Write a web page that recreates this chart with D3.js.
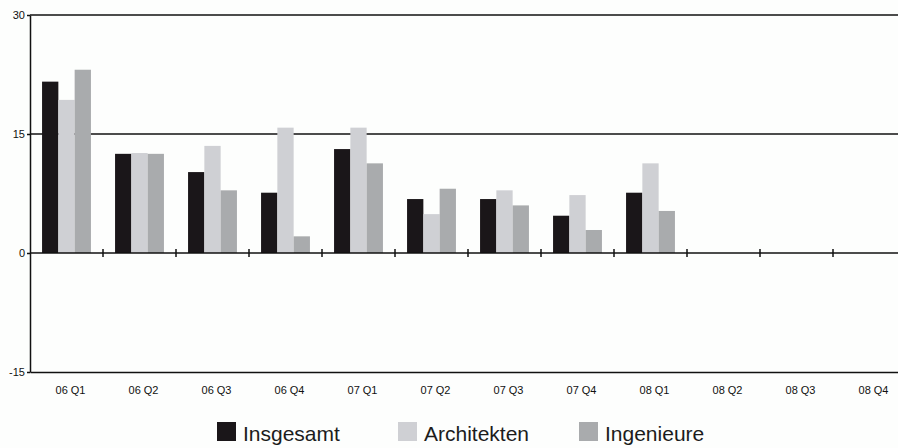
<!DOCTYPE html>
<html>
<meta charset="utf-8">
<style>
body{margin:0;background:#fdfefd;}
svg text{font-family:"Liberation Sans",Arial,sans-serif;fill:#111;}
.axis text{font-size:11px;}
.legend text{font-size:21px;fill:#1c1c1c;}
</style>
<body>
<svg width="898" height="448"></svg>
<script src="https://d3js.org/d3.v7.min.js"></script>
<script>

var quarters = ["06 Q1","06 Q2","06 Q3","06 Q4","07 Q1","07 Q2","07 Q3","07 Q4","08 Q1","08 Q2","08 Q3","08 Q4"];
var seriesNames = ["Insgesamt","Architekten","Ingenieure"];
var insgesamt   = [21.6, 12.5, 10.2, 7.6, 13.1, 6.8, 6.8, 4.7, 7.6, null, null, null];
var architekten = [19.3, 12.6, 13.5, 15.8, 15.8, 4.9, 7.9, 7.3, 11.3, null, null, null];
var ingenieure  = [23.1, 12.5, 7.9, 2.1, 11.3, 8.1, 6.0, 2.9, 5.3, null, null, null];
var yTicks = [-15, 0, 15, 30];
var colors = ["#1a1619", "#cfd0d4", "#a9abad"];

var svg = d3.select("svg");
var mLeft = 30, mRight = 906, mTop = 15, mBottom = 372;

var x = d3.scaleBand().domain(quarters).range([mLeft, mRight]).paddingInner(0).paddingOuter(0);
var xs = d3.scaleBand().domain(seriesNames).range([0, x.bandwidth()]).paddingInner(0).paddingOuter(0.74);
var y = d3.scaleLinear().domain([-15, 30]).range([mBottom, mTop]);

var data = [insgesamt, architekten, ingenieure];

// gridlines at 15 and 30
svg.append("g").selectAll("line")
    .data([15, 30])
    .enter().append("line")
    .attr("x1", mLeft).attr("x2", mRight)
    .attr("y1", function(d) { return y(d); }).attr("y2", function(d) { return y(d); })
    .attr("stroke", "#111").attr("stroke-width", 1.5);

// bars
var groups = svg.append("g").selectAll("g")
    .data(quarters)
    .enter().append("g")
    .attr("transform", function(d) { return "translate(" + x(d) + ",0)"; });

groups.selectAll("rect")
    .data(function(q, i) {
      return seriesNames.map(function(s, j) { return {s: s, v: data[j][i], j: j}; })
        .filter(function(d) { return d.v != null; });
    })
    .enter().append("rect")
    .attr("x", function(d) { return xs(d.s); })
    .attr("width", xs.bandwidth())
    .attr("y", function(d) { return y(Math.max(0, d.v)); })
    .attr("height", function(d) { return Math.abs(y(d.v) - y(0)); })
    .attr("fill", function(d) { return colors[d.j]; });

// zero line with ticks between categories
svg.append("line")
    .attr("x1", mLeft).attr("x2", mRight)
    .attr("y1", y(0)).attr("y2", y(0))
    .attr("stroke", "#111").attr("stroke-width", 1.5);
svg.append("g").selectAll("line")
    .data(quarters.slice(1))
    .enter().append("line")
    .attr("x1", function(d) { return x(d); }).attr("x2", function(d) { return x(d); })
    .attr("y1", y(0) - 4).attr("y2", y(0) + 4)
    .attr("stroke", "#111").attr("stroke-width", 1.5);

// bottom axis
var xAxis = svg.append("g").attr("class", "axis")
    .attr("transform", "translate(0," + mBottom + ")")
    .call(d3.axisBottom(x).tickSize(0).tickPadding(14));
xAxis.select(".domain").attr("stroke", "#111").attr("stroke-width", 1.5);
xAxis.selectAll("text").attr("dx", 4);

// left axis (plain hyphen for negatives, like the original)
var yAxis = svg.append("g").attr("class", "axis")
    .attr("transform", "translate(" + mLeft + ",0)")
    .call(d3.axisLeft(y).tickValues(yTicks).tickFormat(function(d) { return String(d); })
      .tickSize(3).tickPadding(2).tickSizeOuter(0));
yAxis.select(".domain").attr("stroke", "#111").attr("stroke-width", 1.5);
yAxis.selectAll(".tick line").attr("stroke", "#111").attr("stroke-width", 1.5);

// legend
var legendX = [217, 398, 579];
var legend = svg.append("g").attr("class", "legend").selectAll("g")
    .data(seriesNames)
    .enter().append("g")
    .attr("transform", function(d, i) { return "translate(" + legendX[i] + ",422)"; });
legend.append("rect").attr("width", 19).attr("height", 19)
    .attr("fill", function(d, i) { return colors[i]; });
legend.append("text").attr("x", 26).attr("y", 19).text(function(d) { return d; });

</script>
</body>
</html>
